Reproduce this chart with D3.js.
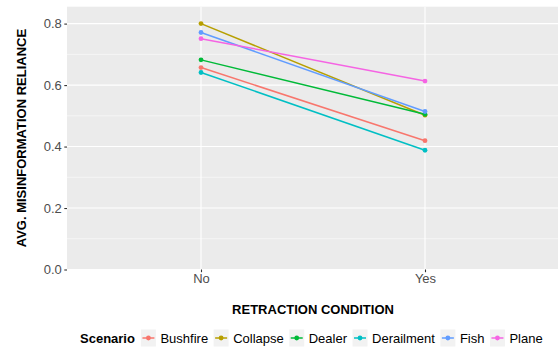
<!DOCTYPE html>
<html><head><meta charset="utf-8">
<script src="https://cdn.jsdelivr.net/npm/d3@7"></script>
<style>body{margin:0;background:#fff;font-family:"Liberation Sans",Arial,sans-serif;}</style>
</head><body><svg id="c" width="558" height="348"></svg>
<script>
const conditions = ["No", "Yes"];
const scenarios = ["Bushfire", "Collapse", "Dealer", "Derailment", "Fish", "Plane"];
const colors = ["#F8766D", "#B79F00", "#00BA38", "#00BFC4", "#619CFF", "#F564E3"];
const valuesNo  = [0.657, 0.800, 0.682, 0.641, 0.771, 0.751];
const valuesYes = [0.419, 0.502, 0.505, 0.388, 0.514, 0.613];
const yTicks = [0.0, 0.2, 0.4, 0.6, 0.8];
const yMinor = [0.1, 0.3, 0.5, 0.7];

const svg = d3.select("#c");
const panel = {l: 67, t: 6.7, r: 559, b: 269.5};
const x = d3.scalePoint().domain(conditions).range([201, 425]);
const y = d3.scaleLinear().domain([0, 0.855]).range([panel.b, panel.t]);
const color = d3.scaleOrdinal().domain(scenarios).range(colors);

svg.append("rect").attr("x", panel.l).attr("y", panel.t)
  .attr("width", panel.r - panel.l).attr("height", panel.b - panel.t).attr("fill", "#EBEBEB");
const g = svg.append("g");
g.selectAll(".minor").data(yMinor).join("line")
  .attr("x1", panel.l).attr("x2", panel.r).attr("y1", d => y(d)).attr("y2", d => y(d))
  .attr("stroke", "#fff").attr("stroke-width", 0.55);
g.selectAll(".major").data(yTicks).join("line")
  .attr("x1", panel.l).attr("x2", panel.r).attr("y1", d => y(d)).attr("y2", d => y(d))
  .attr("stroke", "#fff").attr("stroke-width", 1.1);
g.selectAll(".vmajor").data(conditions).join("line")
  .attr("x1", d => x(d)).attr("x2", d => x(d)).attr("y1", panel.t).attr("y2", panel.b)
  .attr("stroke", "#fff").attr("stroke-width", 1.1);

// axes
const yAxis = svg.append("g").attr("transform", `translate(${panel.l},0)`)
  .call(d3.axisLeft(y).tickValues(yTicks).tickFormat(d3.format(".1f")).tickSize(2.7).tickPadding(2.5));
const xAxis = svg.append("g").attr("transform", `translate(0,${panel.b})`)
  .call(d3.axisBottom(x).tickSize(2.7).tickPadding(2));
[yAxis, xAxis].forEach(a => {
  a.select(".domain").remove();
  a.selectAll(".tick line").attr("stroke", "#333").attr("stroke-width", 1.1);
  a.selectAll(".tick text").attr("fill", "#4D4D4D").attr("font-size", 13)
    .attr("font-family", "Liberation Sans, Arial, sans-serif");
});

// data
const series = scenarios.map((s, i) => ({name: s, pts: [{c: "No", v: valuesNo[i]}, {c: "Yes", v: valuesYes[i]}]}));
const line = d3.line().x(d => x(d.c)).y(d => y(d.v));
svg.append("g").selectAll("path").data(series).join("path")
  .attr("d", d => line(d.pts)).attr("fill", "none")
  .attr("stroke", d => color(d.name)).attr("stroke-width", 1.5);
svg.append("g").selectAll("g").data(series).join("g")
  .attr("fill", d => color(d.name))
  .selectAll("circle").data(d => d.pts).join("circle")
  .attr("cx", d => x(d.c)).attr("cy", d => y(d.v)).attr("r", 2.4);

// titles
svg.append("text").attr("transform", `translate(21,${(panel.t + panel.b) / 2}) rotate(-90)`)
  .attr("text-anchor", "middle").attr("dominant-baseline", "central")
  .attr("font-weight", "bold").attr("font-size", 13).attr("fill", "#000")
  .text("AVG. MISINFORMATION RELIANCE");
svg.append("text").attr("x", 313).attr("y", 309).attr("text-anchor", "middle")
  .attr("dominant-baseline", "central").attr("font-weight", "bold").attr("font-size", 13)
  .text("RETRACTION CONDITION");

// legend
const leg = svg.append("g");
const ly = 338;
let lx = 80;
const t0 = leg.append("text").attr("x", lx).attr("y", ly).attr("dominant-baseline", "central")
  .attr("font-weight", "bold").attr("font-size", 13).text("Scenario");
lx += t0.node().getComputedTextLength() + 6;
scenarios.forEach((s, i) => {
  const kg = leg.append("g").attr("transform", `translate(${lx},${ly - 8.5})`);
  kg.append("rect").attr("width", 15).attr("height", 17).attr("fill", "#F2F2F2");
  kg.append("line").attr("x1", 1.5).attr("x2", 13.5).attr("y1", 8.5).attr("y2", 8.5)
    .attr("stroke", color(s)).attr("stroke-width", 1.5);
  kg.append("circle").attr("cx", 7.5).attr("cy", 8.5).attr("r", 2.4).attr("fill", color(s));
  lx += 15 + 4.5;
  const t = leg.append("text").attr("x", lx).attr("y", ly).attr("dominant-baseline", "central")
    .attr("font-size", 13).attr("fill", "#000").text(s);
  lx += t.node().getComputedTextLength() + 5.5;
});
</script></body></html>
